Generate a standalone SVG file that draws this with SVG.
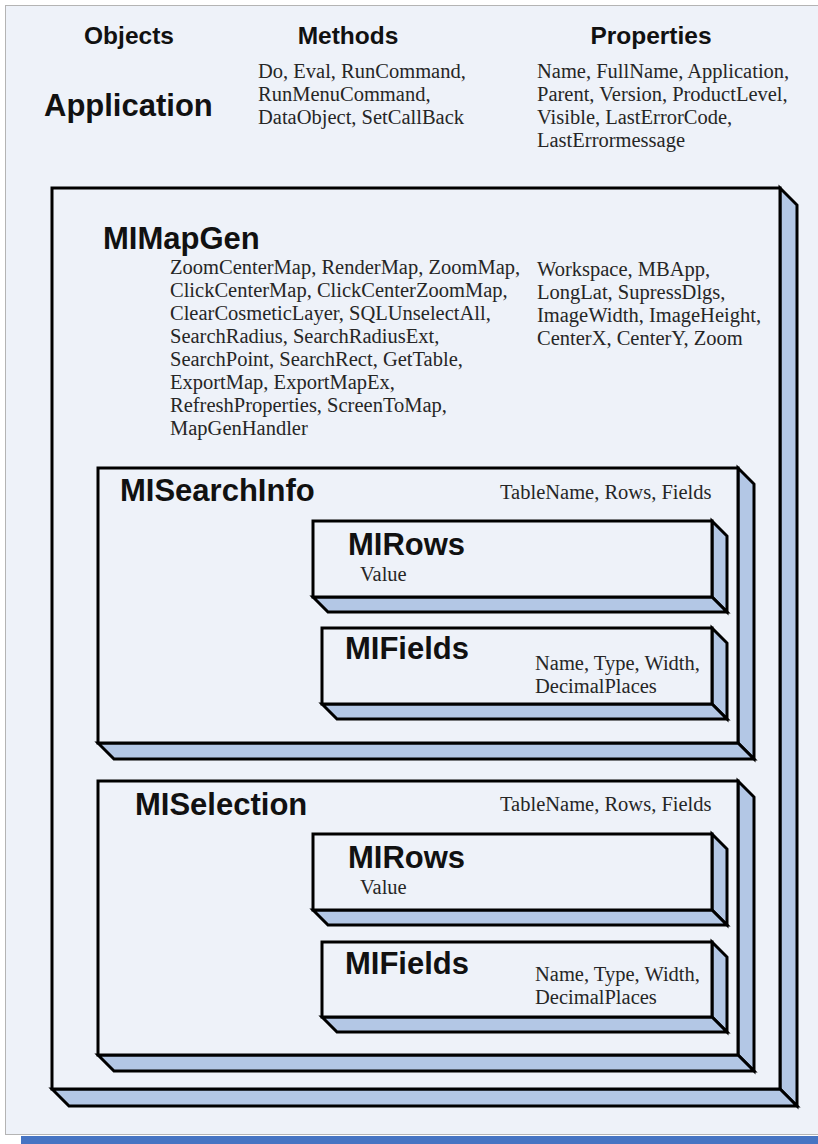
<svg xmlns="http://www.w3.org/2000/svg" width="818" height="1144" viewBox="0 0 818 1144">
<style>
.front{fill:#eef2f9;stroke:#000;stroke-width:3;stroke-linejoin:miter}
.side{fill:#b3c7e5;stroke:#000;stroke-width:3;stroke-linejoin:miter}
.hdr{font-family:"Liberation Sans",Arial,sans-serif;font-weight:bold;font-size:24.5px;fill:#111}
.obj{font-family:"Liberation Sans",Arial,sans-serif;font-weight:bold;font-size:31px;fill:#111}
.txt{font-family:"Liberation Serif","Times New Roman",serif;font-size:20.5px;fill:#262626}
</style>
<rect x="0" y="0" width="818" height="1144" fill="#ffffff"/>
<rect x="5.5" y="5.5" width="813" height="1129" fill="#eef2f9" stroke="#b4b4b4" stroke-width="1"/>
<rect x="21" y="1136" width="797" height="8" fill="#4674c3"/>

<g id="header">
<text class="hdr" x="129" y="44" text-anchor="middle">Objects</text>
<text class="hdr" x="348" y="44" text-anchor="middle">Methods</text>
<text class="hdr" x="651" y="44" text-anchor="middle">Properties</text>
</g>

<g id="application">
<text class="obj" x="44" y="116">Application</text>
<text class="txt" x="258" y="78">Do, Eval, RunCommand,</text>
<text class="txt" x="258" y="101">RunMenuCommand,</text>
<text class="txt" x="258" y="124">DataObject, SetCallBack</text>
<text class="txt" x="537" y="78">Name, FullName, Application,</text>
<text class="txt" x="537" y="101">Parent, Version, ProductLevel,</text>
<text class="txt" x="537" y="124">Visible, LastErrorCode,</text>
<text class="txt" x="537" y="147">LastErrormessage</text>
</g>

<g id="MIMapGen">
<polygon class="side" points="780,188 797,205 797,1106 780,1089"/>
<polygon class="side" points="52,1089 69,1106 797,1106 780,1089"/>
<rect class="front" x="52" y="188" width="728" height="901"/>
<text class="obj" x="103" y="249">MIMapGen</text>
<text class="txt" x="170" y="274">ZoomCenterMap, RenderMap, ZoomMap,</text>
<text class="txt" x="170" y="297">ClickCenterMap, ClickCenterZoomMap,</text>
<text class="txt" x="170" y="320">ClearCosmeticLayer, SQLUnselectAll,</text>
<text class="txt" x="170" y="343">SearchRadius, SearchRadiusExt,</text>
<text class="txt" x="170" y="366">SearchPoint, SearchRect, GetTable,</text>
<text class="txt" x="170" y="389">ExportMap, ExportMapEx,</text>
<text class="txt" x="170" y="412">RefreshProperties, ScreenToMap,</text>
<text class="txt" x="170" y="435">MapGenHandler</text>
<text class="txt" x="537" y="276">Workspace, MBApp,</text>
<text class="txt" x="537" y="299">LongLat, SupressDlgs,</text>
<text class="txt" x="537" y="322">ImageWidth, ImageHeight,</text>
<text class="txt" x="537" y="345">CenterX, CenterY, Zoom</text>
</g>

<g id="MISearchInfo">
<polygon class="side" points="738,468 754,484 754,759 738,743"/>
<polygon class="side" points="98,743 114,759 754,759 738,743"/>
<rect class="front" x="98" y="468" width="640" height="275"/>
<text class="obj" x="120" y="501">MISearchInfo</text>
<text class="txt" x="500" y="499">TableName, Rows, Fields</text>
</g>

<g id="MIRows1">
<polygon class="side" points="712,521 727,536 727,612 712,597"/>
<polygon class="side" points="313,597 328,612 727,612 712,597"/>
<rect class="front" x="313" y="521" width="399" height="76"/>
<text class="obj" x="348" y="555">MIRows</text>
<text class="txt" x="360" y="581">Value</text>
</g>

<g id="MIFields1">
<polygon class="side" points="712,628 727,643 727,719 712,704"/>
<polygon class="side" points="322,704 337,719 727,719 712,704"/>
<rect class="front" x="322" y="628" width="390" height="76"/>
<text class="obj" x="345" y="659">MIFields</text>
<text class="txt" x="535" y="670">Name, Type, Width,</text>
<text class="txt" x="535" y="693">DecimalPlaces</text>
</g>

<g id="MISelection">
<polygon class="side" points="738,781 754,797 754,1071 738,1055"/>
<polygon class="side" points="98,1055 114,1071 754,1071 738,1055"/>
<rect class="front" x="98" y="781" width="640" height="274"/>
<text class="obj" x="135" y="815">MISelection</text>
<text class="txt" x="500" y="811">TableName, Rows, Fields</text>
</g>

<g id="MIRows2">
<polygon class="side" points="712,834 727,849 727,925 712,910"/>
<polygon class="side" points="313,910 328,925 727,925 712,910"/>
<rect class="front" x="313" y="834" width="399" height="76"/>
<text class="obj" x="348" y="868">MIRows</text>
<text class="txt" x="360" y="894">Value</text>
</g>

<g id="MIFields2">
<polygon class="side" points="712,942 727,957 727,1032 712,1017"/>
<polygon class="side" points="322,1017 337,1032 727,1032 712,1017"/>
<rect class="front" x="322" y="942" width="390" height="75"/>
<text class="obj" x="345" y="974">MIFields</text>
<text class="txt" x="535" y="981">Name, Type, Width,</text>
<text class="txt" x="535" y="1004">DecimalPlaces</text>
</g>

<g id="connectors"></g>
</svg>
